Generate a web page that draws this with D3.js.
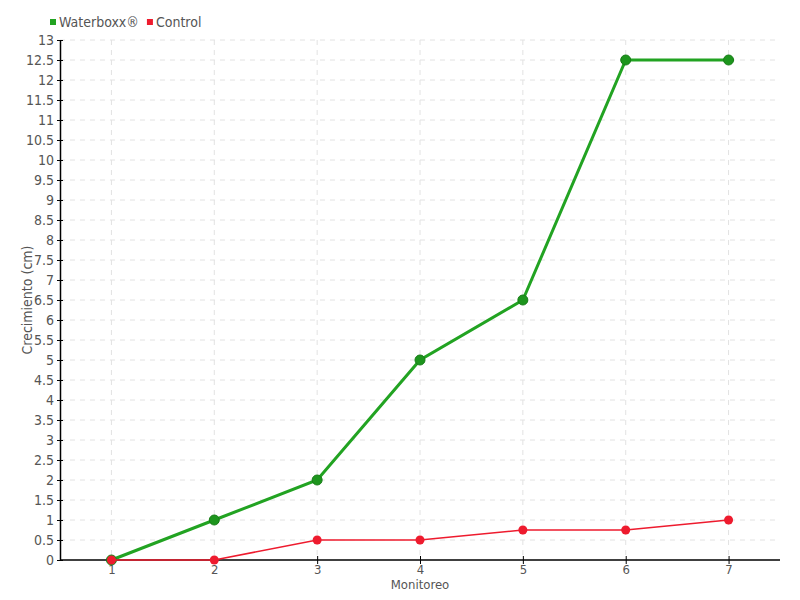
<!DOCTYPE html>
<html><head><meta charset="utf-8">
<script src="https://cdn.jsdelivr.net/npm/d3@7"></script>
<style>
body{margin:0;background:#fff;}
text{font-family:"Liberation Sans Narrow","DejaVu Sans Condensed","Roboto Condensed",sans-serif;}
</style></head>
<body><svg id="c" width="800" height="600"></svg>
<script>
const categories = ["1","2","3","4","5","6","7"];
const waterboxx = [0,1,2,5,6.5,12.5,12.5];
const control = [0,0,0.5,0.5,0.75,0.75,1];
const yTicks = d3.range(0,13.01,0.5);
const seriesNames = ["Waterboxx®","Control"];
const colors = ["#22a322","#ee1b2e"];

const svg = d3.select("#c");
const m = {l:60,r:20,t:40,b:40};
const W=800,H=600;
const x = d3.scalePoint().domain(categories).range([m.l,W-m.r]).padding(0.5);
const y = d3.scaleLinear().domain([0,13]).range([H-m.b,m.t]);

// grid
const g = svg.append("g");
g.selectAll(".hg").data(yTicks.filter(d=>d>0)).join("line")
 .attr("x1",m.l).attr("x2",W-m.r).attr("y1",d=>y(d)).attr("y2",d=>y(d))
 .attr("stroke","#e2e2e2").attr("stroke-dasharray","5,5");
g.selectAll(".vg").data(categories).join("line")
 .attr("x1",d=>x(d)).attr("x2",d=>x(d)).attr("y1",m.t).attr("y2",H-m.b)
 .attr("stroke","#e2e2e2").attr("stroke-dasharray","5,5");

// axes
const fmt = d=>String(d);
const ya = svg.append("g").attr("transform",`translate(${m.l},0)`)
 .call(d3.axisLeft(y).tickValues(yTicks).tickFormat(fmt).tickSizeInner(3).tickSizeOuter(0).tickPadding(3));
ya.selectAll(".tick line").attr("x2",3).attr("x1",-3);
const xa = svg.append("g").attr("transform",`translate(0,${H-m.b})`)
 .call(d3.axisBottom(x).tickSizeInner(4).tickSizeOuter(0).tickPadding(1));
xa.selectAll(".tick line").attr("y1",-4).attr("y2",4);
[ya,xa].forEach(a=>{
  a.select(".domain").attr("stroke","#000").attr("stroke-width",1.5);
  a.selectAll(".tick line").attr("stroke","#000");
  a.selectAll(".tick text").attr("fill","#555").style("font-size","14px");
});
xa.selectAll(".tick text").style("font-size","13px");
xa.select(".domain").attr("d",`M${m.l},0H${W-m.r}`);

// titles
svg.append("text").attr("x",420).attr("y",589).attr("text-anchor","middle")
 .attr("fill","#555").style("font-size","13px").text("Monitoreo");
svg.append("text").attr("transform",`translate(32,300) rotate(-90)`).attr("text-anchor","middle")
 .attr("fill","#555").style("font-size","14px").text("Crecimiento (cm)");

// lines
const line = d3.line().x((d,i)=>x(categories[i])).y(d=>y(d));
svg.append("path").datum(waterboxx).attr("d",line).attr("fill","none")
 .attr("stroke",colors[0]).attr("stroke-width",3);
svg.selectAll(".wp").data(waterboxx).join("circle")
 .attr("cx",(d,i)=>x(categories[i])).attr("cy",d=>y(d)).attr("r",5)
 .attr("fill","#1d951d").attr("stroke","#177d17").attr("stroke-width",1);
svg.append("path").datum(control).attr("d",line).attr("fill","none")
 .attr("stroke",colors[1]).attr("stroke-width",1.5);
svg.selectAll(".cp").data(control).join("circle")
 .attr("cx",(d,i)=>x(categories[i])).attr("cy",d=>y(d)).attr("r",4.5)
 .attr("fill",colors[1]);

// legend
const lg = svg.append("g").attr("transform","translate(50,16)");
let lx=0;
seriesNames.forEach((n,i)=>{
  lg.append("rect").attr("x",lx).attr("y",3).attr("width",6).attr("height",6).attr("fill",colors[i]);
  const t = lg.append("text").attr("x",lx+9).attr("y",11).attr("fill","#555").style("font-size","14px").text(n);
  lx += 9 + t.node().getComputedTextLength() + 8;
});
</script></body></html>
